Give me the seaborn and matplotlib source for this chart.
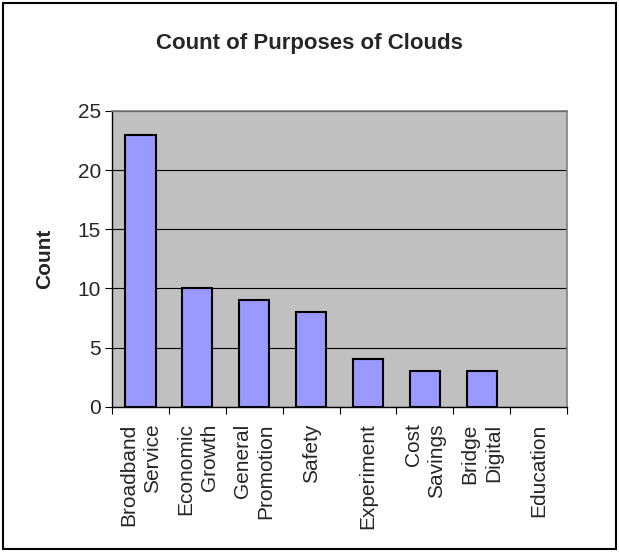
import matplotlib
matplotlib.use("Agg")
from matplotlib import pyplot as plt
from matplotlib.patches import Rectangle
import numpy as np
import pandas as pd
import seaborn as sns

# 数据
purposes = ["Broadband\nService", "Economic\nGrowth", "General\nPromotion", "Safety",
            "Experiment", "Cost\nSavings", "Bridge\nDigital", "Education"]
counts = [23, 10, 9, 8, 4, 3, 3, 0]

sns.set_theme(style="white")
plt.rcParams['font.family'] = ['Liberation Sans', 'DejaVu Sans']

df = pd.DataFrame({"Purpose": purposes, "Count": counts})

fig = plt.figure(figsize=(6.19, 5.52), dpi=100)
ax = fig.add_axes([0.181, 0.263, 0.735, 0.536])
ax.set_facecolor("#C0C0C0")

sns.barplot(x="Purpose", y="Count", data=df, color="#9999FF", saturation=1,
            edgecolor="black", linewidth=1.5, width=0.53, ax=ax, zorder=3)

# 高度为0的柱子不画边框
for bar in ax.patches:
    if bar.get_height() == 0:
        bar.set_edgecolor("none")

# 网格线和坐标轴
ax.set_ylim(0, 25)
ax.set_xlim(-0.5, len(purposes) - 0.5)
ax.set_yticks(range(0, 26, 5))
ax.yaxis.grid(True, color="black", linewidth=0.8, zorder=0)
ax.set_axisbelow(True)
for s in ["top", "right"]:
    ax.spines[s].set_color("#808080")
    ax.spines[s].set_linewidth(1.2)
for s in ["left", "bottom"]:
    ax.spines[s].set_color("black")
    ax.spines[s].set_linewidth(1.0)

ax.tick_params(axis="y", which="major", left=True, length=5, width=0.8,
               color="black", labelsize=15, pad=3)
ax.set_xticks(np.arange(-0.5, len(purposes), 1.0), minor=True)
ax.tick_params(axis="x", which="minor", bottom=True, length=5, width=0.8, color="black")
ax.tick_params(axis="x", which="major", bottom=False, length=0, pad=12)
ax.set_xticks(range(len(purposes)))
ax.set_xticklabels(purposes, rotation=90, fontsize=15, va="top", ha="center",
                   multialignment="right", linespacing=1.3)

ax.set_xlabel("")
ax.set_ylabel("Count", fontsize=15, fontweight="bold", labelpad=17)

fig.text(0.5, 0.922, "Count of Purposes of Clouds", fontsize=16, fontweight="bold",
         ha="center", va="center")

# 外框
fig.patches.append(Rectangle((0.005, 0.005), 0.99, 0.99, transform=fig.transFigure,
                             fill=False, edgecolor="black", linewidth=1.5))

plt.savefig("out.png", dpi=100)
